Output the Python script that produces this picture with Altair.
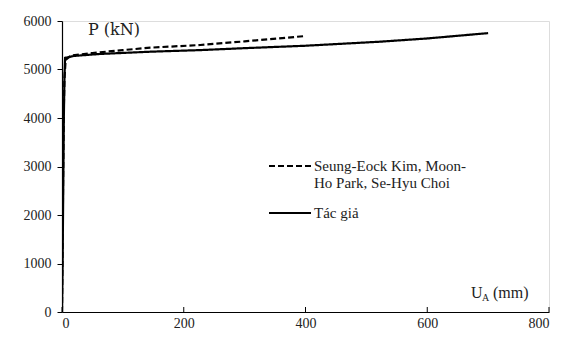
import altair as alt
import pandas as pd

# Series: Seung-Eock Kim, Moon-Ho Park, Se-Hyu Choi (dashed)
kim_x = [0, 1, 2, 3, 4, 6, 15, 50, 100, 145, 227, 300, 400]
kim_p = [0, 1500, 3000, 4200, 4800, 5200, 5290, 5340, 5400, 5450, 5505, 5580, 5690]
# Series: Tác giả (solid)
tg_x = [0, 1, 2, 3, 4, 5, 20, 62, 145, 227, 300, 400, 522, 600, 700]
tg_p = [0, 1000, 2500, 4000, 4800, 5240, 5280, 5320, 5367, 5400, 5440, 5490, 5573, 5640, 5750]

x_ticks = [0, 200, 400, 600, 800]
y_ticks = [0, 1000, 2000, 3000, 4000, 5000, 6000]

name_kim = "Seung-Eock Kim, Moon-Ho Park, Se-Hyu Choi"
name_tg = "Tác giả"

df = pd.concat([
    pd.DataFrame({"U": kim_x, "P": kim_p, "s": name_kim, "o": range(len(kim_x))}),
    pd.DataFrame({"U": tg_x, "P": tg_p, "s": name_tg, "o": range(len(tg_x))}),
])

FONT = "Liberation Serif"
FONT2 = "DejaVu Serif"
xscale = alt.Scale(domain=[0, 800], nice=False)

lines = alt.Chart(df).mark_line(color="black", strokeWidth=2.2, clip=True).encode(
    x=alt.X("U:Q", scale=xscale,
            axis=alt.Axis(values=x_ticks, title=None, grid=False, format="d",
                          ticks=False, labelPadding=4, domainColor="black",
                          labelColor="#222", labelFontSize=14,
                          labelFont=FONT, domainWidth=1.2)),
    y=alt.Y("P:Q", scale=alt.Scale(domain=[0, 6000], nice=False),
            axis=alt.Axis(values=y_ticks, title=None, format="d",
                          grid=False, tickSize=5, labelPadding=6, domainColor="black",
                          tickColor="black", labelColor="#222", labelFontSize=14,
                          labelFont="serif", domainWidth=1.2, tickWidth=1)),
    strokeDash=alt.StrokeDash(
        "s:N",
        scale=alt.Scale(domain=[name_kim, name_tg], range=[[6, 3], [1, 0]]),
        legend=alt.Legend(
            title=None, orient="none", legendX=206, legendY=123,
            symbolType="stroke", symbolSize=1764, symbolStrokeWidth=2,
            symbolStrokeColor="black", labelFont="Times New Roman", labelFontSize=15,
            labelColor="#222", labelOffset=2, rowPadding=-5,
            labelExpr="datum.label == 'Tác giả' ? datum.label : ['Seung-Eock Kim, Moon-', 'Ho Park, Se-Hyu Choi']",
        ),
    ),
    order="o:Q",
)

xtick_marks = alt.Chart(pd.DataFrame({"v": x_ticks})).mark_rule(
    color="black", strokeWidth=1
).encode(x=alt.X("v:Q", scale=xscale), y=alt.value(291), y2=alt.value(286))

ytitle = alt.Chart(pd.DataFrame({"t": ["P (kN)"]})).mark_text(
    font=FONT2, fontSize=16, align="left", baseline="middle", color="#222"
).encode(x=alt.value(26), y=alt.value(9), text="t:N")

u_main = alt.Chart(pd.DataFrame({"t": ["U"]})).mark_text(
    font=FONT, fontSize=16, align="left", baseline="middle", color="#222"
).encode(x=alt.value(409), y=alt.value(272), text="t:N")
u_sub = alt.Chart(pd.DataFrame({"t": ["A"]})).mark_text(
    font=FONT, fontSize=10, align="left", baseline="middle", color="#222"
).encode(x=alt.value(420), y=alt.value(277), text="t:N")
u_unit = alt.Chart(pd.DataFrame({"t": ["(mm)"]})).mark_text(
    font=FONT, fontSize=16, align="left", baseline="middle", color="#222"
).encode(x=alt.value(431), y=alt.value(272), text="t:N")

chart = alt.layer(lines, xtick_marks, ytitle, u_main, u_sub, u_unit).properties(
    width=487, height=291,
    autosize=alt.AutoSizeParams(type="none"),
    padding={"left": 54, "top": 13, "right": 10, "bottom": 18},
).configure_view(stroke=None).configure(background="white")

chart.save("out.html", embed_options={"renderer": "svg", "actions": False})
